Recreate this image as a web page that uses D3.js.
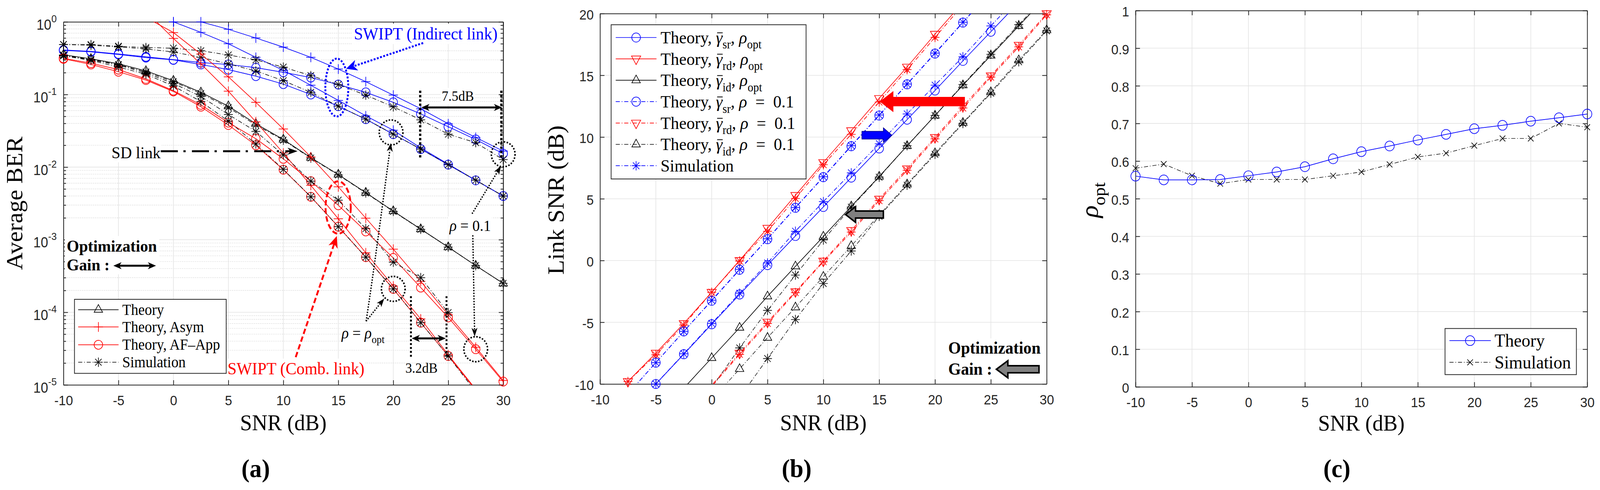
<!DOCTYPE html>
<html lang="en">
<head>
<meta charset="UTF-8">
<script src="https://d3js.org/d3.v7.min.js"></script>
<title>SWIPT BER, link SNR and rho_opt</title>
<style>
  html, body { margin: 0; height: 100%; overflow: hidden; background: #fff; }
  #fig { display: block; width: 100%; height: 100%; }
  .tick text { font-family: "Liberation Sans", Arial, sans-serif; font-size: 35px; fill: #262626; }
  .tick line { stroke: #262626; stroke-width: 2px; }
  .domain { stroke: #262626; stroke-width: 2px; }
  .serif { font-family: "Liberation Serif", "Times New Roman", serif; }
</style>
</head>
<body>
<svg id="fig" viewBox="0 0 4318 1254" preserveAspectRatio="none"></svg>
<script>
// ---------- data ----------
const snr = [-10, -7.5, -5, -2.5, 0, 2.5, 5, 7.5, 10, 12.5, 15, 17.5, 20, 22.5, 25, 27.5, 30];
const xTicks = [-10, -5, 0, 5, 10, 15, 20, 25, 30];

// (a) average BER
const berSdTheory   = [0.353, 0.31, 0.265, 0.211, 0.155, 0.107, 0.069, 0.0395, 0.024, 0.0135, 0.0079, 0.00445, 0.00248, 0.0014, 7.9e-4, 4.4e-4, 2.5e-4];
const berSdSim      = [0.35, 0.305, 0.258, 0.205, 0.15, 0.103, 0.066, 0.038, 0.0235, 0.0133, 0.0078, 0.0044, 0.00245, 0.00139, 7.9e-4, 4.4e-4, 2.5e-4];
const berInd01App   = [0.41, 0.392, 0.362, 0.33, 0.302, 0.275, 0.259, 0.234, 0.202, 0.171, 0.137, 0.107, 0.078, 0.054, 0.036, 0.024, 0.0153];
const berIndOptApp  = [0.405, 0.387, 0.356, 0.322, 0.30, 0.259, 0.22, 0.179, 0.139, 0.100, 0.069, 0.0457, 0.0284, 0.0177, 0.0108, 0.00656, 0.0040];
const berInd01Asym  = [null, null, null, null, 1.0, 1.0, 0.79, 0.60, 0.449, 0.325, 0.224, 0.150, 0.098, 0.0636, 0.0395, 0.0256, 0.0166];
const berIndOptAsym = [null, null, null, null, 1.0, 0.718, 0.50, 0.325, 0.215, 0.134, 0.083, 0.0507, 0.0322, 0.0184, 0.011, 0.0066, 0.004];
const berInd01Sim   = [0.487, 0.486, 0.462, 0.443, 0.434, 0.40, 0.35, 0.30, 0.238, 0.182, 0.137, 0.098, 0.0676, 0.0448, 0.0284, 0.0217, 0.0127];
const berIndOptSim  = [0.487, 0.477, 0.452, 0.425, 0.384, 0.325, 0.264, 0.211, 0.155, 0.107, 0.069, 0.0457, 0.0284, 0.0177, 0.0108, 0.0066, 0.004];
const berComb01App  = [0.315, 0.27, 0.22, 0.164, 0.113, 0.072, 0.041, 0.0246, 0.013, 0.0064, 0.00298, 0.0013, 5.6e-4, 2.19e-4, 8.5e-5, 3.1e-5, 1.11e-5];
const berCombOptApp = [0.31, 0.259, 0.206, 0.158, 0.11, 0.068, 0.038, 0.020, 0.0092, 0.0039, 0.00151, 5.75e-4, 2.1e-4, 7.2e-5, 2.5e-5, 8.5e-6, 3e-6];
const berComb01Asym = [null, null, null, 1.15, 0.713, 0.36, 0.175, 0.078, 0.0335, 0.0138, 0.00534, 0.00198, 7.4e-4, 2.67e-4, 9.25e-5, 3.3e-5, 1.15e-5];
const berCombOptAsym= [null, null, null, 1.4, 0.592, 0.264, 0.111, 0.042, 0.0156, 0.0056, 0.00194, 6.6e-4, 2.3e-4, 8.1e-5, 2.6e-5, 8.7e-6, 3e-6];
const berComb01Sim  = [0.345, 0.30, 0.254, 0.198, 0.142, 0.094, 0.053, 0.031, 0.0147, 0.0064, 0.0035, 0.00142, 4.9e-4, 3.0e-4, 9.9e-5, null, null];
const berCombOptSim = [0.34, 0.295, 0.239, 0.19, 0.131, 0.080, 0.043, 0.0208, 0.0093, 0.0039, 0.00151, 5.75e-4, 2.1e-4, 7.2e-5, 2.5e-5, 8e-6, null];
const berTicks = [1, 1e-1, 1e-2, 1e-3, 1e-4, 1e-5];
const berExp = ["0", "-1", "-2", "-3", "-4", "-5"];

// (b) link SNR (dB)
const srOpt    = [null, null, -10.0, -7.59, -5.16, -2.75, -0.37, 1.99, 4.34, 6.72, 9.08, 11.41, 13.77, 16.17, 18.53, 20.9, null];
const srOptSim = [null, null, -10.0, -7.55, -5.1, -2.65, -0.2, 2.37, 4.77, 7.1, 9.46, 11.87, 14.2, 16.5, 19.0, 21.4, null];
const sr01     = [null, -10.8, -8.27, -5.74, -3.26, -0.75, 1.73, 4.27, 6.75, 9.26, 11.74, 14.27, 16.76, 19.27, 21.8, null, null];
const sr01Sim  = [null, -10.8, -8.27, -5.74, -3.22, -0.72, 1.76, 4.3, 6.78, 9.3, 11.78, 14.3, 16.8, 19.3, 21.8, null, null];
const rdOpt    = [-12.3, -9.79, -7.5, -5.1, -2.57, 0.01, 2.62, 5.28, 7.94, 10.52, 13.13, 15.67, 18.33, 20.9, null, null, null];
const rdOptSim = [-12.3, -9.8, -7.64, -5.23, -2.57, -0.04, 2.37, 5.03, 7.76, 10.22, 12.83, 15.46, 18.07, 20.7, null, null, null];
const rd01     = [null, null, null, -12.6, -10.1, -7.5, -4.98, -2.52, -0.04, 2.44, 4.98, 7.43, 9.97, 12.5, 14.96, 17.44, 20.0];
const rd01Sim  = [null, null, null, -12.7, -10.2, -7.6, -5.1, -2.6, -0.1, 2.3, 4.85, 7.3, 9.85, 12.35, 14.85, 17.3, 19.9];
const idOpt    = [null, null, null, -10.34, -7.89, -5.44, -2.9, -0.47, 1.94, 4.39, 6.8, 9.28, 11.74, 14.2, 16.6, 19.0, 21.4];
const idOptSim = [null, null, null, null, -10.3, -7.08, -4.04, -1.18, 1.66, 4.32, 6.75, 9.3, 11.74, 14.25, 16.7, 19.1, 21.5];
const id01     = [null, null, null, null, -11.3, -8.78, -6.25, -3.79, -1.31, 1.18, 3.68, 6.17, 8.7, 11.16, 13.64, 16.22, 18.66];
const id01Sim  = [null, null, null, null, null, -11.1, -7.94, -4.78, -1.86, 0.77, 3.58, 6.1, 8.6, 11.1, 13.55, 16.1, 18.6];
const linkTicks = [-10, -5, 0, 5, 10, 15, 20];

// (c) optimal power splitting ratio
const rhoTheory = [0.56, 0.55, 0.55, 0.551, 0.561, 0.571, 0.585, 0.606, 0.625, 0.64, 0.656, 0.671, 0.686, 0.695, 0.706, 0.715, 0.725];
const rhoSim    = [0.581, 0.592, 0.561, 0.54, 0.551, 0.551, 0.551, 0.561, 0.571, 0.591, 0.611, 0.621, 0.641, 0.66, 0.66, 0.70, 0.69];
const rhoTicks  = [0, 0.1, 0.2, 0.3, 0.4, 0.5, 0.6, 0.7, 0.8, 0.9, 1];

const BLUE = "#0000ff", RED = "#ff0000", BLACK = "#000000";
const DD = "11,5,2,5";

// ---------- setup ----------
const svg = d3.select("#fig");
svg.append("rect").attr("width", 4318).attr("height", 1254).attr("fill", "#fff");
const defs = svg.append("defs");

const xa = d3.scaleLinear().domain([-10, 30]).range([171.3, 1358]);
const ya = d3.scaleLog().domain([1e-5, 1]).range([985, 56]);
const xb = d3.scaleLinear().domain([-10, 30]).range([1619.3, 2824.7]);
const yb = d3.scaleLinear().domain([-10, 20]).range([982.7, 34.7]);
const xc = d3.scaleLinear().domain([-10, 30]).range([3064.5, 4283.5]);
const yc = d3.scaleLinear().domain([0, 1]).range([990, 27]);

function clipFor(id, x, y) {
  const [x0, x1] = x.range(), [y0, y1] = y.range();
  defs.append("clipPath").attr("id", id).append("rect")
    .attr("x", x0).attr("y", y1).attr("width", x1 - x0).attr("height", y0 - y1);
  return "url(#" + id + ")";
}

function drawAxes(g, x, y, cfg) {
  const [x0, x1] = x.range(), [y0, y1] = y.range();
  const grid = g.append("g");
  if (cfg.minorY) {
    grid.selectAll(".mg").data(cfg.minorY).join("line")
      .attr("x1", x0).attr("x2", x1).attr("y1", d => y(d)).attr("y2", d => y(d))
      .attr("stroke", "#cdcdcd").attr("stroke-width", 1.4).attr("stroke-dasharray", "2,3");
  }
  grid.selectAll(".gx").data(xTicks).join("line")
    .attr("x1", d => x(d)).attr("x2", d => x(d)).attr("y1", y0).attr("y2", y1)
    .attr("stroke", "#e3e3e3").attr("stroke-width", 1.6);
  grid.selectAll(".gy").data(cfg.yTicks).join("line")
    .attr("x1", x0).attr("x2", x1).attr("y1", d => y(d)).attr("y2", d => y(d))
    .attr("stroke", "#e3e3e3").attr("stroke-width", 1.6);

  const ax = g.append("g");
  ax.append("g").attr("transform", `translate(0,${y0})`)
    .call(d3.axisBottom(x).tickValues(xTicks).tickSize(-12).tickSizeOuter(0).tickPadding(27).tickFormat(d => String(d)));
  ax.append("g").attr("transform", `translate(0,${y1})`)
    .call(d3.axisTop(x).tickValues(xTicks).tickSize(-12).tickSizeOuter(0).tickFormat(""));
  const left = ax.append("g").attr("transform", `translate(${x0},0)`)
    .call(d3.axisLeft(y).tickValues(cfg.yTicks).tickSize(-12).tickSizeOuter(0).tickPadding(17)
      .tickFormat(cfg.yFormat || (d => String(d))));
  left.selectAll(".tick text").attr("dy", "0.42em");
  ax.append("g").attr("transform", `translate(${x1},0)`)
    .call(d3.axisRight(y).tickValues(cfg.yTicks).tickSize(-12).tickSizeOuter(0).tickFormat(""));
  if (cfg.minorY) {
    ax.append("g").attr("transform", `translate(${x0},0)`)
      .call(d3.axisLeft(y).tickValues(cfg.minorY).tickSize(-7).tickSizeOuter(0).tickFormat(""));
    ax.append("g").attr("transform", `translate(${x1},0)`)
      .call(d3.axisRight(y).tickValues(cfg.minorY).tickSize(-7).tickSizeOuter(0).tickFormat(""));
  }
}

function markerPath(type, s) {
  if (type === "^") return `M0,${-s * 1.1}L${s * 0.95},${s * 0.55}L${-s * 0.95},${s * 0.55}Z`;
  if (type === "v") return `M${-s * 0.97},${-s * 0.57}L${s * 0.97},${-s * 0.57}L0,${s * 1.13}Z`;
  if (type === "+") return `M${-s},0H${s}M0,${-s}V${s}`;
  if (type === "x") return `M${-s},${-s}L${s},${s}M${-s},${s}L${s},${-s}`;
  const d = s * 0.72;
  return `M${-s},0H${s}M0,${-s}V${s}M${-d},${-d}L${d},${d}M${-d},${d}L${d},${-d}`;
}

function drawMarker(g, type, cx, cy, color, size) {
  if (type === "o") {
    g.append("circle").attr("cx", cx).attr("cy", cy).attr("r", size)
      .attr("fill", "none").attr("stroke", color).attr("stroke-width", 1.7);
  } else {
    g.append("path").attr("d", markerPath(type, size)).attr("transform", `translate(${cx},${cy})`)
      .attr("fill", "none").attr("stroke", color).attr("stroke-width", 1.7);
  }
}

const markerSize = { "o": 11.5, "^": 12, "v": 12.8, "+": 12.5, "*": 12, "x": 7.5 };

function drawSeries(g, x, y, ys, st, clip) {
  const pts = snr.map((v, i) => [v, ys[i]]);
  const line = d3.line().defined(d => d[1] != null).x(d => x(d[0])).y(d => y(d[1]));
  g.append("path").attr("clip-path", clip).attr("d", line(pts))
    .attr("fill", "none").attr("stroke", st.color).attr("stroke-width", st.width || 1.7)
    .attr("stroke-dasharray", st.dash || null);
  const [y0, y1] = y.range();
  pts.filter(d => d[1] != null && y(d[1]) <= y0 + 1 && y(d[1]) >= y1 - 1)
    .forEach(d => drawMarker(g, st.m, x(d[0]), y(d[1]), st.mc || st.color, st.size || markerSize[st.m]));
}

function mathText(g, x, y, parts, size, opts = {}) {
  const t = g.append("text").attr("x", x).attr("y", y).attr("class", "serif")
    .attr("font-size", size).attr("text-anchor", opts.anchor || "start")
    .attr("fill", opts.color || "#000").attr("font-weight", opts.bold ? "bold" : null);
  if (opts.transform) t.attr("transform", opts.transform);
  let shift = 0;
  const bars = [];
  parts.forEach(p => {
    if (typeof p === "string") p = { t: p };
    const ts = t.append("tspan").text(p.t);
    const target = p.sub ? size * 0.3 : (p.sup ? -size * 0.5 : 0);
    if (target - shift !== 0) ts.attr("dy", target - shift);
    shift = target;
    if (p.sub || p.sup) ts.attr("font-size", size * (p.fs || 0.68));
    if (p.it) ts.attr("font-style", "italic");
    if (p.bar) bars.push(ts);
  });
  bars.forEach(ts => {
    const e = ts.node().getExtentOfChar(0);
    g.append("line").attr("x1", e.x + e.width * 0.18).attr("x2", e.x + e.width * 1.02)
      .attr("y1", y - size * 0.6).attr("y2", y - size * 0.6)
      .attr("stroke", opts.color || "#000").attr("stroke-width", size * 0.045);
  });
  return t;
}

function whiteBehind(g, textSel, pad) {
  const b = textSel.node().getBBox();
  g.insert("rect", () => textSel.node())
    .attr("x", b.x - pad).attr("y", b.y - pad * 0.4).attr("width", b.width + 2 * pad).attr("height", b.height + pad * 0.8)
    .attr("fill", "#fff");
}

function head(g, x1, y1, x2, y2, L, W, color) {
  const dx = x2 - x1, dy = y2 - y1, len = Math.hypot(dx, dy);
  const ux = dx / len, uy = dy / len, nx = -uy, ny = ux;
  const bx = x2 - L * ux, by = y2 - L * uy, mx = x2 - 0.72 * L * ux, my = y2 - 0.72 * L * uy;
  g.append("polygon")
    .attr("points", [[x2, y2], [bx + W * nx, by + W * ny], [mx, my], [bx - W * nx, by - W * ny]].map(p => p.join(",")).join(" "))
    .attr("fill", color);
}

function arrowLine(g, x1, y1, x2, y2, o) {
  const L = o.L || 24, W = o.W || 9;
  const dx = x2 - x1, dy = y2 - y1, len = Math.hypot(dx, dy), ux = dx / len, uy = dy / len;
  const e = 0.6 * L;
  const sx = o.both ? x1 + e * ux : x1, sy = o.both ? y1 + e * uy : y1;
  g.append("line").attr("x1", sx).attr("y1", sy).attr("x2", x2 - e * ux).attr("y2", y2 - e * uy)
    .attr("stroke", o.color || BLACK).attr("stroke-width", o.width || 5)
    .attr("stroke-dasharray", o.dash || null);
  head(g, x1, y1, x2, y2, L, W, o.color || BLACK);
  if (o.both) head(g, x2, y2, x1, y1, L, W, o.color || BLACK);
}

function blockArrow(g, xTail, xTip, ym, h, W, L, fill, stroke, sw) {
  const dir = Math.sign(xTip - xTail), xq = xTip - dir * L;
  const pts = [[xTail, ym - h], [xq, ym - h], [xq, ym - W], [xTip, ym], [xq, ym + W], [xq, ym + h], [xTail, ym + h]];
  g.append("polygon").attr("points", pts.map(p => p.join(",")).join(" "))
    .attr("fill", fill).attr("stroke", stroke || "none").attr("stroke-width", sw || 0)
    .attr("stroke-linejoin", "miter");
}

function legendBox(g, x0, y0, x1, y1) {
  g.append("rect").attr("x", x0).attr("y", y0).attr("width", x1 - x0).attr("height", y1 - y0)
    .attr("fill", "#fff").attr("stroke", "#262626").attr("stroke-width", 2);
}

function legendSample(g, xl0, xl1, y, st) {
  g.append("line").attr("x1", xl0).attr("x2", xl1).attr("y1", y).attr("y2", y)
    .attr("stroke", st.color).attr("stroke-width", st.width || 1.7).attr("stroke-dasharray", st.dash || null);
  drawMarker(g, st.m, (xl0 + xl1) / 2, y, st.color, st.size || markerSize[st.m]);
}

// ================= panel (a) =================
const ga = svg.append("g");
const minorBer = [];
[1e-5, 1e-4, 1e-3, 1e-2, 1e-1].forEach(dec => { for (let k = 2; k <= 9; k++) minorBer.push(dec * k); });
drawAxes(ga, xa, ya, { yTicks: berTicks, minorY: minorBer, yFormat: () => "" });
berTicks.forEach((d, i) => {
  const t = ga.append("text").attr("x", 153).attr("y", ya(d) + 20).attr("text-anchor", "end")
    .attr("font-family", "Liberation Sans, Arial, sans-serif").attr("fill", "#262626").attr("font-size", 36);
  t.append("tspan").text("10");
  t.append("tspan").text(berExp[i]).attr("font-size", 26).attr("dy", -19);
});

const clipA = clipFor("clipA", xa, ya);
const da = ga.append("g");
[
  [berInd01Asym,  { color: BLUE, m: "+" }],
  [berIndOptAsym, { color: BLUE, m: "+" }],
  [berInd01App,   { color: BLUE, m: "o" }],
  [berIndOptApp,  { color: BLUE, m: "o" }],
  [berInd01Sim,   { color: BLACK, m: "*", dash: DD, width: 1.5 }],
  [berIndOptSim,  { color: BLACK, m: "*", dash: DD, width: 1.5 }],
  [berSdTheory,   { color: BLACK, m: "^" }],
  [berSdSim,      { color: BLACK, m: "*", dash: DD, width: 1.5 }],
  [berComb01Asym, { color: RED, m: "+" }],
  [berCombOptAsym,{ color: RED, m: "+" }],
  [berComb01App,  { color: RED, m: "o" }],
  [berCombOptApp, { color: RED, m: "o" }],
  [berComb01Sim,  { color: BLACK, m: "*", dash: DD, width: 1.5 }],
  [berCombOptSim, { color: BLACK, m: "*", dash: DD, width: 1.5 }]
].forEach(([ys, st]) => drawSeries(da, xa, ya, ys, st, clipA));

// annotations (a)
const an = ga.append("g");
let t;
t = mathText(an, 955, 101, ["SWIPT (Indirect link)"], 44, { color: BLUE });
whiteBehind(an, t, 4);
an.append("ellipse").attr("cx", 909).attr("cy", 224).attr("rx", 31).attr("ry", 74)
  .attr("fill", "none").attr("stroke", BLUE).attr("stroke-width", 5).attr("stroke-dasharray", "5,4");
arrowLine(an, 1142, 110, 934, 176, { color: BLUE, dash: "5,4", width: 5, L: 30, W: 14 });

an.append("ellipse").attr("cx", 912.6).attr("cy", 531).attr("rx", 34).attr("ry", 67)
  .attr("fill", "none").attr("stroke", RED).attr("stroke-width", 5).attr("stroke-dasharray", "14,7");
arrowLine(an, 798, 914, 909, 604, { color: RED, dash: "14,7", width: 5, L: 30, W: 13 });

t = mathText(an, 301, 405, ["SD link"], 43);
whiteBehind(an, t, 3);
arrowLine(an, 434, 387, 803, 387, { dash: "46,15,6,17", width: 5, L: 27, W: 9 });

t = mathText(an, 1192, 258, ["7.5dB"], 36);
whiteBehind(an, t, 3);
[1134, 1353].forEach(xv => an.append("line").attr("x1", xv).attr("x2", xv).attr("y1", 232).attr("y2", 408)
  .attr("stroke", BLACK).attr("stroke-width", 6).attr("stroke-dasharray", "6,5"));
arrowLine(an, 1137, 275, 1355, 275, { both: true, width: 5, L: 22, W: 9 });

[1109, 1205].forEach(xv => an.append("line").attr("x1", xv).attr("x2", xv).attr("y1", 758).attr("y2", 914)
  .attr("stroke", BLACK).attr("stroke-width", 5).attr("stroke-dasharray", "5,5"));
arrowLine(an, 1111, 866, 1203, 866, { both: true, width: 5, L: 22, W: 9 });
mathText(an, 1094, 954, ["3.2dB"], 36);

// dotted circles around highlighted points
[[19.8, 0.03], [30, 0.015], [20, 2.1e-4], [27.5, 3.1e-5]].forEach(([xv, bv]) =>
  an.append("circle").attr("cx", xa(xv)).attr("cy", ya(bv)).attr("r", 32)
    .attr("fill", "none").attr("stroke", BLACK).attr("stroke-width", 4).attr("stroke-dasharray", "4,4"));

t = mathText(an, 1213, 591, [{ t: "ρ", it: true }, " = 0.1"], 40);
whiteBehind(an, t, 3);
t = mathText(an, 922, 866, [{ t: "ρ", it: true }, " = ", { t: "ρ", it: true }, { t: "opt", sub: true }], 40);
whiteBehind(an, t, 3);

an.append("path").attr("d", "M988,822 C1008,700 1030,540 1052,385").attr("fill", "none")
  .attr("stroke", BLACK).attr("stroke-width", 3.5).attr("stroke-dasharray", "3.5,3.5");
head(an, 1050, 400, 1055, 366, 22, 8, BLACK);
arrowLine(an, 988, 822, 1037, 764, { width: 3.5, dash: "3.5,3.5", L: 22, W: 8 });
arrowLine(an, 1274, 547, 1352, 425, { width: 3.5, dash: "3.5,3.5", L: 22, W: 8 });
arrowLine(an, 1276, 602, 1281, 861, { width: 3.5, dash: "3.5,3.5", L: 22, W: 8 });

t = mathText(an, 614, 958, ["SWIPT (Comb. link)"], 44, { color: RED });
whiteBehind(an, t, 3);

const og = an.append("g");
const t1 = mathText(og, 180, 644, ["Optimization"], 43, { bold: true });
mathText(og, 180, 692, ["Gain :"], 43, { bold: true });
og.insert("rect", () => t1.node()).attr("x", 175).attr("y", 604).attr("width", 255).attr("height", 98).attr("fill", "#fff");
arrowLine(og, 306, 680, 421, 680, { both: true, width: 5, L: 22, W: 9 });

// legend (a)
const la = ga.append("g");
legendBox(la, 201, 766, 610.5, 955.5);
[
  ["Theory", { color: BLACK, m: "^" }, 792.6],
  ["Theory, Asym", { color: RED, m: "+" }, 836.7],
  ["Theory, AF\u2013App", { color: RED, m: "o" }, 882.3],
  ["Simulation", { color: BLACK, m: "*", dash: DD, width: 1.5 }, 927]
].forEach(([lab, st, yv]) => {
  legendSample(la, 211, 320, yv, st);
  mathText(la, 330, yv + 13, [lab], 39);
});

// axis labels (a)
mathText(ga, 764.6, 1101, ["SNR (dB)"], 58, { anchor: "middle" });
mathText(ga, 0, 0, ["Average BER"], 62, { anchor: "middle", transform: "translate(60,520) rotate(-90)" });
mathText(ga, 690, 1221, ["(a)"], 66, { anchor: "middle", bold: true });

// ================= panel (b) =================
const gb = svg.append("g");
drawAxes(gb, xb, yb, { yTicks: linkTicks });
const clipB = clipFor("clipB", xb, yb);
const db = gb.append("g");
[
  [idOptSim, { color: BLACK, m: "*", dash: DD, width: 1.4 }],
  [id01Sim,  { color: BLACK, m: "*", dash: DD, width: 1.4 }],
  [idOpt,    { color: BLACK, m: "^" }],
  [id01,     { color: BLACK, m: "^", dash: DD, width: 1.3 }],
  [rdOptSim, { color: RED, m: "*", dash: DD }],
  [rd01Sim,  { color: RED, m: "*", dash: DD }],
  [rdOpt,    { color: RED, m: "v" }],
  [rd01,     { color: RED, m: "v", dash: DD }],
  [srOptSim, { color: BLUE, m: "*", dash: DD }],
  [sr01Sim,  { color: BLUE, m: "*", dash: DD }],
  [srOpt,    { color: BLUE, m: "o", size: 11.7 }],
  [sr01,     { color: BLUE, m: "o", size: 11.7, dash: DD }]
].forEach(([ys, st]) => drawSeries(db, xb, yb, ys, st, clipB));

const bn = gb.append("g");
blockArrow(bn, 2604, 2374, 260, 12, 27, 37, RED);
blockArrow(bn, 2326, 2407, 346, 10, 19, 23, BLUE, "#000080", 1.5);
blockArrow(bn, 2384, 2282, 549, 9, 20, 27, "#808080", BLACK, 4);
const bo = bn.append("g");
bo.append("rect").attr("x", 2553).attr("y", 866).attr("width", 266).attr("height", 104).attr("fill", "#fff");
mathText(bo, 2559, 905, ["Optimization"], 44, { bold: true });
mathText(bo, 2559, 959, ["Gain :"], 44, { bold: true });
blockArrow(bo, 2804, 2689, 945, 9, 22, 31, "#808080", BLACK, 4);

// legend (b)
const lb = gb.append("g");
legendBox(lb, 1649.3, 63.3, 2175.4, 458);
const gam = l => [{ t: "Theory, " }, { t: "γ", it: true, bar: true }, { t: l, sub: true }, ", ", { t: "ρ", it: true }];
[
  [gam("sr").concat([{ t: "opt", sub: true }]), { color: BLUE, m: "o", size: 11.7 }],
  [gam("rd").concat([{ t: "opt", sub: true }]), { color: RED, m: "v" }],
  [gam("id").concat([{ t: "opt", sub: true }]), { color: BLACK, m: "^" }],
  [gam("sr").concat(["\u2002=\u20020.1"]), { color: BLUE, m: "o", size: 11.7, dash: DD }],
  [gam("rd").concat(["\u2002=\u20020.1"]), { color: RED, m: "v", dash: DD }],
  [gam("id").concat(["\u2002=\u20020.1"]), { color: BLACK, m: "^", dash: DD, width: 1.3 }],
  [["Simulation"], { color: BLUE, m: "*", dash: DD }]
].forEach(([parts, st], i) => {
  const yv = 96 + i * 54.7;
  legendSample(lb, 1661.7, 1771.7, yv, st);
  mathText(lb, 1782.7, yv + 15, parts, 45);
});

mathText(gb, 2222, 1101, ["SNR (dB)"], 58, { anchor: "middle" });
mathText(gb, 0, 0, ["Link SNR (dB)"], 62, { anchor: "middle", transform: "translate(1521,512) rotate(-90)" });
mathText(gb, 2150, 1221, ["(b)"], 66, { anchor: "middle", bold: true });

// ================= panel (c) =================
const gc = svg.append("g");
drawAxes(gc, xc, yc, { yTicks: rhoTicks });
const clipC = clipFor("clipC", xc, yc);
const dc = gc.append("g");
drawSeries(dc, xc, yc, rhoSim, { color: BLACK, m: "x", dash: DD, width: 1.4 }, clipC);
drawSeries(dc, xc, yc, rhoTheory, { color: BLUE, m: "o", size: 12.5 }, clipC);

const lc = gc.append("g");
legendBox(lc, 3899.8, 840.7, 4254.3, 958.7);
legendSample(lc, 3911.7, 4023.3, 871.7, { color: BLUE, m: "o", size: 12.5 });
mathText(lc, 4033.3, 887, ["Theory"], 47);
legendSample(lc, 3911.7, 4023.3, 927.3, { color: BLACK, m: "x", dash: DD, width: 1.4 });
mathText(lc, 4033.3, 943, ["Simulation"], 47);

mathText(gc, 3674, 1102, ["SNR (dB)"], 58, { anchor: "middle" });
mathText(gc, 0, 0, [{ t: "ρ", it: true }, { t: "opt", sub: true, fs: 0.7 }], 66,
  { anchor: "middle", transform: "translate(2962,512) rotate(-90)" });
mathText(gc, 3608, 1221, ["(c)"], 66, { anchor: "middle", bold: true });
</script>
</body>
</html>
